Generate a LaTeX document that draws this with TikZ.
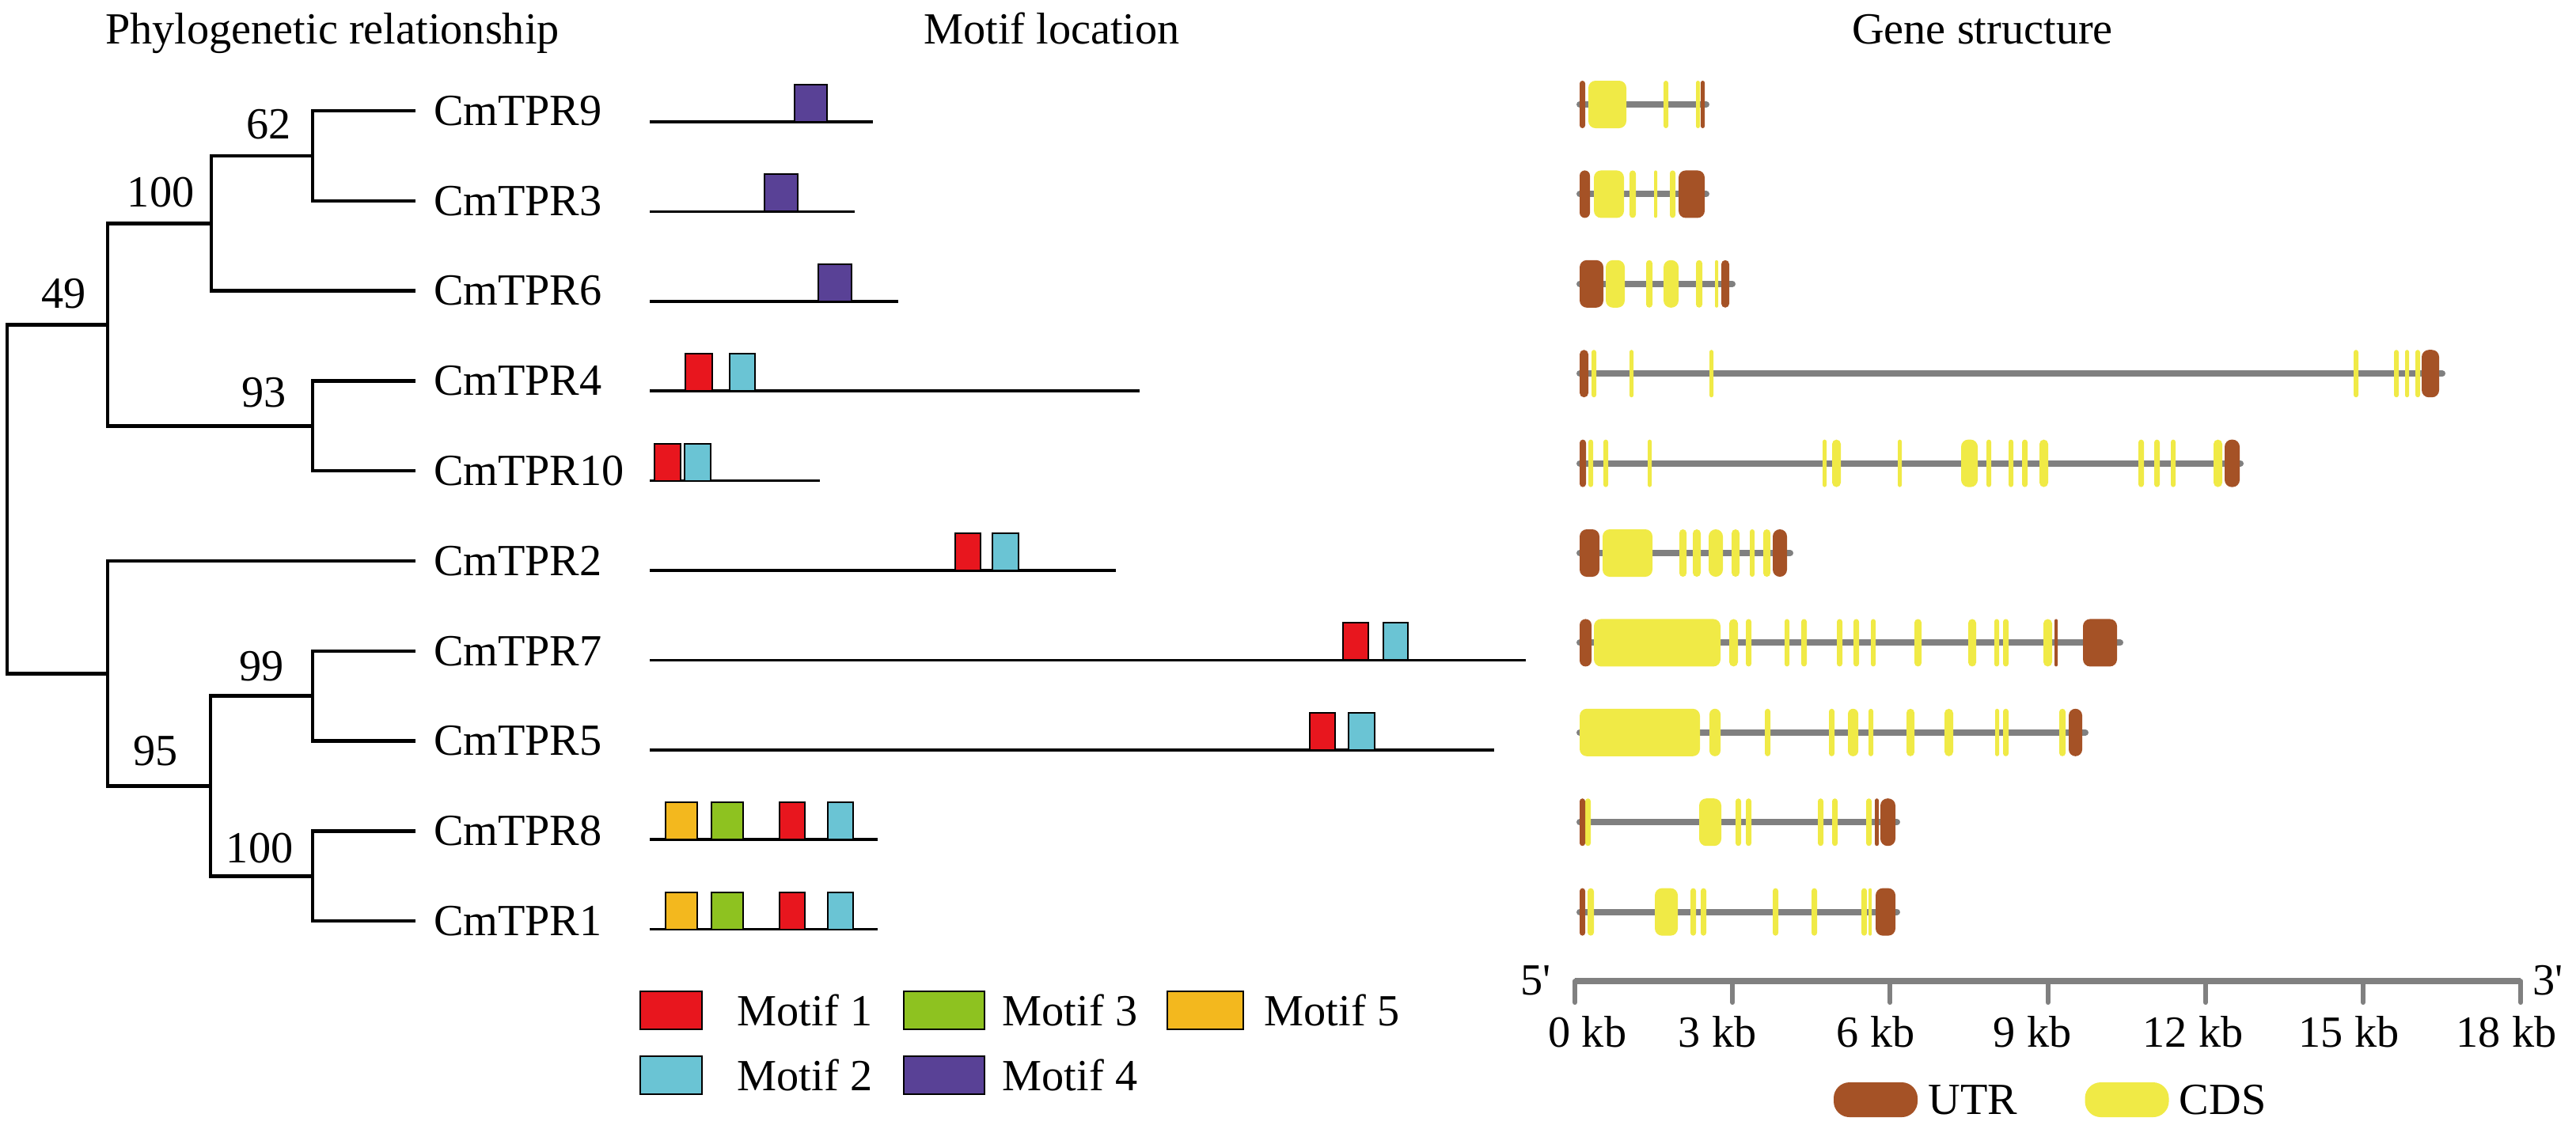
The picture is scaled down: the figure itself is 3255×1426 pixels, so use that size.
\documentclass[tikz,border=0pt]{standalone}
\usepackage{fontspec}
\setmainfont{Liberation Serif}
\usetikzlibrary{positioning}
\definecolor{utrc}{RGB}{165,82,38}
\definecolor{cdsc}{RGB}{240,234,70}
\definecolor{intc}{RGB}{128,128,128}
\definecolor{mred}{RGB}{232,22,30}
\definecolor{mcyan}{RGB}{106,196,212}
\definecolor{mpurple}{RGB}{89,65,150}
\definecolor{mgreen}{RGB}{142,194,32}
\definecolor{morange}{RGB}{243,184,30}
\newcommand{\exons}[3]{%
  \foreach \a/\b in {#3} {%
    \pgfmathsetmacro{\exr}{min(9,(\b-\a)/2)*0.2845}%
    \fill[#2, rounded corners=\exr pt] (\a,#1-30) rectangle (\b,#1+30);}}
\begin{document}
\begin{tikzpicture}[x=0.01cm, y=-0.01cm,
  lbl/.style={font=\fontsize{16pt}{19pt}\selectfont, inner sep=0pt},
  leaf/.style={lbl, anchor=west, outer xsep=0.23cm},
  bs/.style={lbl},
  branch/.style={line width=0.045cm},
  prot/.style={line width=0.035cm},
  mot/.style={draw=black, line width=0.02cm},
  mbox/.style={mot, minimum height=0.48cm, inner sep=0pt},
  intron/.style={draw=intc, line width=0.08cm, line cap=round},
  tick/.style={draw=intc, line width=0.06cm, line cap=round},
  utr/.style={fill=utrc}, cds/.style={fill=cdsc},
  blob/.style={minimum height=0.44cm, minimum width=1.06cm, rounded corners=0.2cm, inner sep=0pt}]
\useasboundingbox (0,0) rectangle (3255,1426);

\node[lbl, anchor=base] (tphy) at (420,55) {Phylogenetic relationship};
\node[lbl, anchor=base] (tmot) at (1329,55) {Motif location};
\node[lbl, anchor=base] (tgen) at (2505,55) {Gene structure};

\node[leaf] (t9) at (525,140) {CmTPR9};
\node[leaf] (t3) at (525,253.8) {CmTPR3};
\node[leaf] (t6) at (525,367.6) {CmTPR6};
\node[leaf] (t4) at (525,481.4) {CmTPR4};
\node[leaf] (t10) at (525,595.2) {CmTPR10};
\node[leaf] (t2) at (525,709) {CmTPR2};
\node[leaf] (t7) at (525,822.8) {CmTPR7};
\node[leaf] (t5) at (525,936.6) {CmTPR5};
\node[leaf] (t8) at (525,1050.4) {CmTPR8};
\node[leaf] (t1) at (525,1164.2) {CmTPR1};

\coordinate (n62) at (395,196.9);
\coordinate (n100a) at (267,282.3);
\coordinate (n93) at (395,538.3);
\coordinate (n49) at (136,410.3);
\coordinate (n99) at (395,879.7);
\coordinate (n100b) at (395,1107.3);
\coordinate (n95) at (266,993.5);
\coordinate (nb) at (136,851.3);
\coordinate (root) at (9,630.8);

\draw[branch] (n62) |- (t9);
\draw[branch] (n62) |- (t3);
\draw[branch] (n100a) |- (n62);
\draw[branch] (n100a) |- (t6);
\draw[branch] (n93) |- (t4);
\draw[branch] (n93) |- (t10);
\draw[branch] (n49) |- (n100a);
\draw[branch] (n49) |- (n93);
\draw[branch] (n99) |- (t7);
\draw[branch] (n99) |- (t5);
\draw[branch] (n100b) |- (t8);
\draw[branch] (n100b) |- (t1);
\draw[branch] (n95) |- (n99);
\draw[branch] (n95) |- (n100b);
\draw[branch] (nb) |- (t2);
\draw[branch] (nb) |- (n95);
\draw[branch] (root) |- (n49);
\draw[branch] (root) |- (nb);

\node[bs, above left=0.2cm and 0.27cm of n62] (b62) {62};
\node[bs, above left=0.2cm and 0.21cm of n100a] (b100a) {100};
\node[bs, above left=0.2cm and 0.27cm of n49] (b49) {49};
\node[bs, above left=0.23cm and 0.33cm of n93] (b93) {93};
\node[bs, above left=0.18cm and 0.36cm of n99] (b99) {99};
\node[bs, above left=0.25cm and 0.41cm of n95] (b95) {95};
\node[bs, above left=0.16cm and 0.24cm of n100b] (b100b) {100};

\draw[prot] (821,154) -- (1103,154);
\draw[prot] (821,267.4) -- (1080,267.4);
\draw[prot] (821,380.8) -- (1135,380.8);
\draw[prot] (821,494.2) -- (1440,494.2);
\draw[prot] (821,607.6) -- (1036,607.6);
\draw[prot] (821,721) -- (1410,721);
\draw[prot] (821,834.4) -- (1928,834.4);
\draw[prot] (821,947.8) -- (1888,947.8);
\draw[prot] (821,1061.2) -- (1109,1061.2);
\draw[prot] (821,1174.6) -- (1109,1174.6);

\draw[mot, fill=mpurple] (1004,107) rectangle (1045,154);
\draw[mot, fill=mpurple] (966,220.4) rectangle (1008,267.4);
\draw[mot, fill=mpurple] (1034,333.8) rectangle (1076,380.8);
\draw[mot, fill=mred] (866,447.2) rectangle (900,494.2);
\draw[mot, fill=mcyan] (922,447.2) rectangle (954,494.2);
\draw[mot, fill=mred] (827,560.6) rectangle (860,607.6);
\draw[mot, fill=mcyan] (865,560.6) rectangle (898,607.6);
\draw[mot, fill=mred] (1207,674) rectangle (1239,721);
\draw[mot, fill=mcyan] (1254,674) rectangle (1287,721);
\draw[mot, fill=mred] (1697,787.4) rectangle (1729,834.4);
\draw[mot, fill=mcyan] (1748,787.4) rectangle (1779,834.4);
\draw[mot, fill=mred] (1655,900.8) rectangle (1687,947.8);
\draw[mot, fill=mcyan] (1704,900.8) rectangle (1737,947.8);
\draw[mot, fill=morange] (841,1014.2) rectangle (881,1061.2);
\draw[mot, fill=mgreen] (899,1014.2) rectangle (939,1061.2);
\draw[mot, fill=mred] (985,1014.2) rectangle (1017,1061.2);
\draw[mot, fill=mcyan] (1046,1014.2) rectangle (1078,1061.2);
\draw[mot, fill=morange] (841,1127.6) rectangle (881,1174.6);
\draw[mot, fill=mgreen] (899,1127.6) rectangle (939,1174.6);
\draw[mot, fill=mred] (985,1127.6) rectangle (1017,1174.6);
\draw[mot, fill=mcyan] (1046,1127.6) rectangle (1078,1174.6);

\node[mbox, fill=mred, minimum width=0.78cm] (k1) at (848,1277) {};
\node[lbl, right=0.43cm of k1] (l1) {Motif 1};
\node[mbox, fill=mgreen, minimum width=1.02cm] (k3) at (1193,1277) {};
\node[lbl, right=0.21cm of k3] (l3) {Motif 3};
\node[mbox, fill=morange, minimum width=0.96cm] (k5) at (1523,1277) {};
\node[lbl, right=0.25cm of k5] (l5) {Motif 5};
\node[mbox, fill=mcyan, minimum width=0.78cm] (k2) at (848,1358.5) {};
\node[lbl, right=0.43cm of k2] (l2) {Motif 2};
\node[mbox, fill=mpurple, minimum width=1.02cm] (k4) at (1193,1358.5) {};
\node[lbl, right=0.21cm of k4] (l4) {Motif 4};

\draw[intron] (1996,132) -- (2156,132);
\exons{132}{cds}{2007/2055, 2102/2108, 2143/2148}
\exons{132}{utr}{1996/2003, 2149/2154}
\draw[intron] (1996,245.4) -- (2156,245.4);
\exons{245.4}{cds}{2014/2052, 2059/2067, 2090/2094, 2110/2117}
\exons{245.4}{utr}{1996/2009, 2121/2154}
\draw[intron] (1996,358.8) -- (2189,358.8);
\exons{358.8}{cds}{2029/2053, 2080/2088, 2102/2121, 2143/2151, 2167/2171}
\exons{358.8}{utr}{1996/2026, 2175/2185}
\draw[intron] (1996,472.2) -- (3086,472.2);
\exons{472.2}{cds}{2011/2017, 2059/2064, 2160/2165, 2974/2980, 3025/3031, 3039/3044, 3052/3058}
\exons{472.2}{utr}{1996/2007, 3060/3082}
\draw[intron] (1996,585.6) -- (2831,585.6);
\exons{585.6}{cds}{2007/2013, 2026/2032, 2082/2087, 2303/2308, 2315/2326, 2398/2403, 2478/2499, 2510/2516, 2538/2544, 2555/2562, 2577/2588, 2702/2709, 2722/2729, 2743/2749, 2797/2808}
\exons{585.6}{utr}{1996/2004, 2811/2830}
\draw[intron] (1996,699) -- (2262,699);
\exons{699}{cds}{2025/2088, 2122/2131, 2139/2149, 2159/2177, 2188/2198, 2211/2217, 2228/2237}
\exons{699}{utr}{1996/2021, 2240/2258}
\draw[intron] (1996,812.4) -- (2679,812.4);
\exons{812.4}{cds}{2014/2174, 2185/2196, 2206/2213, 2255/2261, 2276/2283, 2321/2328, 2342/2349, 2364/2370, 2419/2428, 2487/2497, 2520/2526, 2531/2538, 2582/2593}
\exons{812.4}{utr}{1996/2011, 2596/2600, 2632/2675}
\draw[intron] (1996,925.8) -- (2635,925.8);
\exons{925.8}{cds}{1996/2148, 2160/2174, 2230/2237, 2311/2318, 2335/2348, 2361/2367, 2409/2419, 2457/2468, 2521/2526, 2531/2538, 2602/2610}
\exons{925.8}{utr}{2614/2631}
\draw[intron] (1996,1039.2) -- (2397,1039.2);
\exons{1039.2}{cds}{2003/2010, 2147/2175, 2193/2200, 2206/2213, 2297/2304, 2315/2322, 2358/2365}
\exons{1039.2}{utr}{1996/2003, 2369/2374, 2376/2395}
\draw[intron] (1996,1152.6) -- (2397,1152.6);
\exons{1152.6}{cds}{2006/2014, 2091/2120, 2136/2143, 2149/2156, 2240/2247, 2289/2296, 2352/2359, 2361/2365}
\exons{1152.6}{utr}{1996/2003, 2370/2395}

\draw[intron, line cap=butt] (1990,1240) -- (3185,1240);
\foreach \k in {0,...,6} \draw[tick] (1990+199.2*\k,1240) -- ++(0,27);
\foreach \k/\p in {0/2006, 3/2170, 6/2370, 9/2568, 12/2771, 15/2968, 18/3167}
  \node[lbl, anchor=base] (kb\k) at (\p,1323) {\k\ kb};
\node[lbl, anchor=base east] (five) at (1960,1257) {5\textquotesingle};
\node[lbl, anchor=base west] (three) at (3200,1257) {3\textquotesingle};

\node[blob, fill=utrc] (ku) at (2370,1390) {};
\node[lbl, right=0.12cm of ku] (lu) {UTR};
\node[blob, fill=cdsc] (kc) at (2687.5,1390) {};
\node[lbl, right=0.12cm of kc] (lc) {CDS};
\end{tikzpicture}
\end{document}
